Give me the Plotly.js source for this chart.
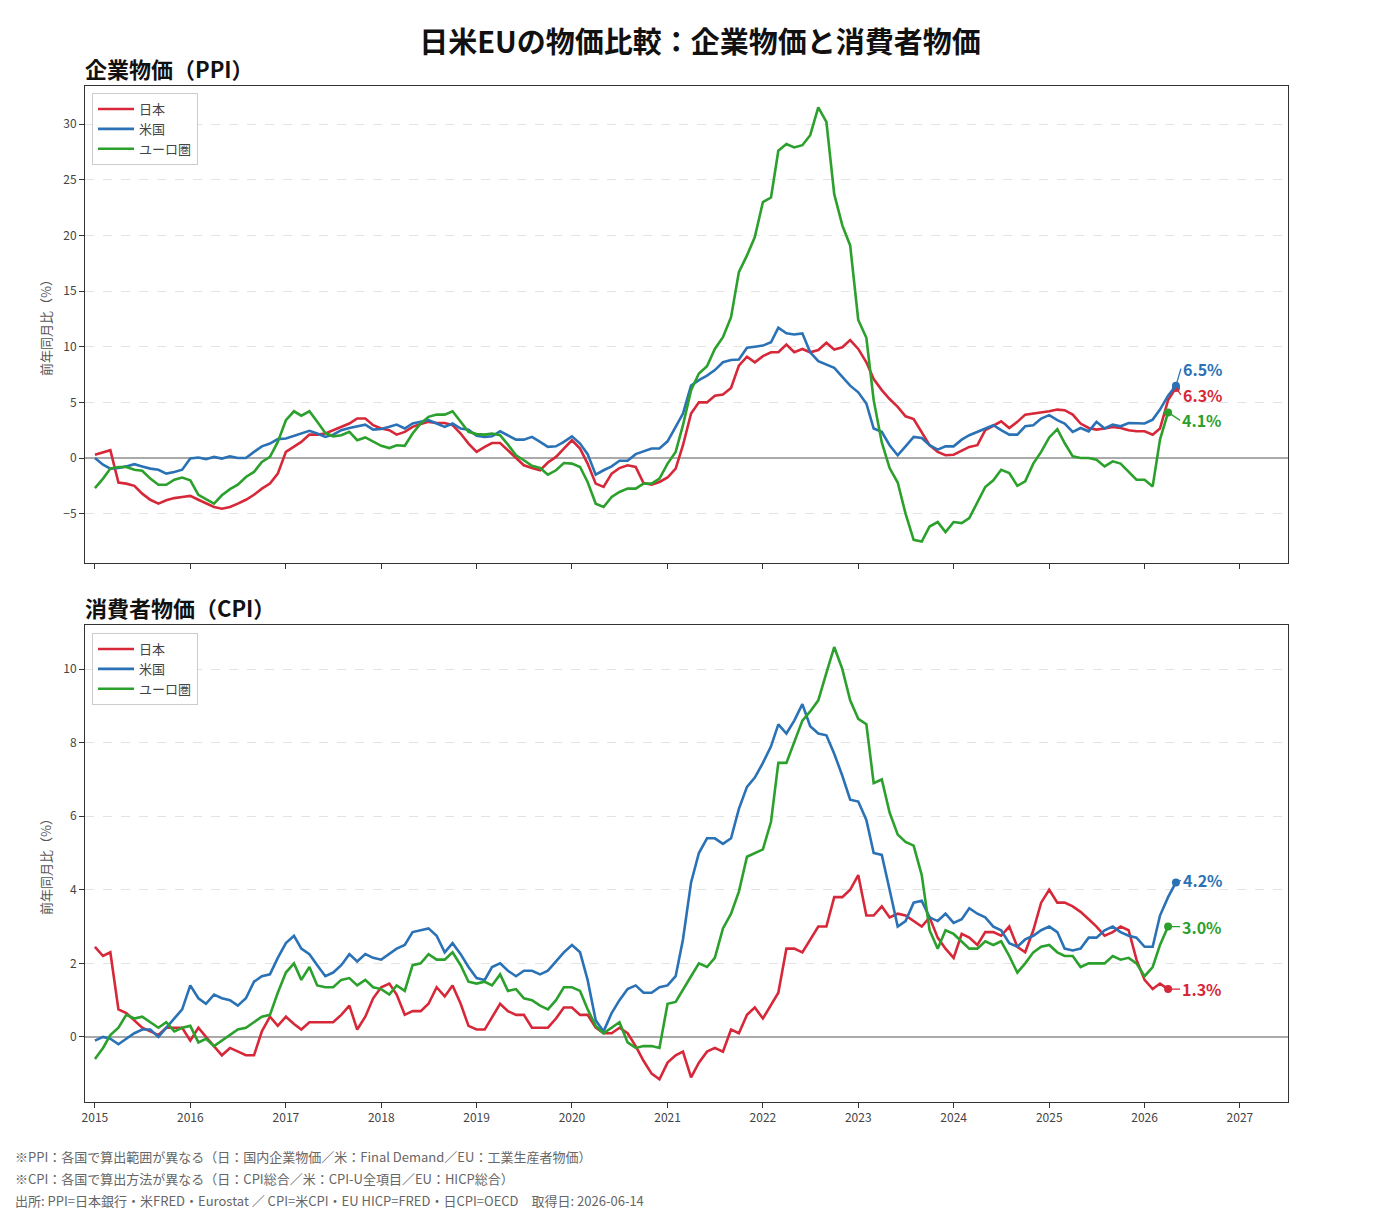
<!DOCTYPE html>
<html>
<head>
<meta charset="utf-8">
<script src="https://cdn.plot.ly/plotly-3.0.1.min.js"></script>
<style>
  html, body { margin: 0; padding: 0; background: #fff; }
  #chart { width: 1400px; height: 1225px; }
</style>
</head>
<body>
<div id="chart"></div>
<script>
// ---- Data (monthly, starting 2015-01) ----
const startYear = 2015;
const seriesNames = ['日本', '米国', 'ユーロ圏'];
const seriesColors = ['#d62839', '#2a72b5', '#2ca02c'];

const ppiJapan = [
  0.3, 0.5, 0.7, -2.2, -2.3, -2.5, -3.2, -3.75, -4.1, -3.8, -3.6, -3.5,
  -3.4, -3.75, -4.1, -4.4, -4.55, -4.4, -4.1, -3.75, -3.3, -2.75, -2.3, -1.4,
  0.55, 1.0, 1.45, 2.1, 2.1, 2.2, 2.5, 2.8, 3.1, 3.55, 3.55, 2.95,
  2.65, 2.5, 2.1, 2.35, 2.8, 3.05, 3.25, 3.15, 3.15, 2.95, 2.2, 1.3,
  0.55, 1.0, 1.35, 1.35, 0.7, -0.05, -0.65, -0.9, -1.1, -0.4, 0.1, 0.85,
  1.6, 0.85, -0.5, -2.3, -2.6, -1.4, -0.9, -0.65, -0.8, -2.25, -2.4, -2.15,
  -1.75, -0.95, 1.15, 4.0, 5.0, 5.0, 5.6, 5.7, 6.3, 8.3, 9.1, 8.6,
  9.15, 9.5, 9.5, 10.2, 9.5, 9.8, 9.5, 9.7, 10.35, 9.75, 9.95, 10.6,
  9.8, 8.6, 7.1, 6.1, 5.3, 4.6, 3.75, 3.5, 2.3, 1.15, 0.55, 0.25,
  0.3, 0.7, 1.0, 1.15, 2.5, 2.9, 3.3, 2.7, 3.25, 3.9, 4.0, 4.05,
  4.2, 4.35, 4.3, 3.9, 3.1, 2.7, 2.55, 2.65, 2.8, 2.7, 2.5, 2.4,
  2.4, 2.1, 2.65, 5.2, 6.3
];
const ppiUS = [
  0.0, -0.6, -0.95, -0.9, -0.75, -0.55, -0.75, -0.95, -1.05, -1.4, -1.25, -1.05,
  -0.05, 0.05, -0.1, 0.1, -0.05, 0.15, 0.0, 0.0, 0.55, 1.05, 1.3, 1.7,
  1.75, 2.0, 2.2, 2.45, 2.2, 1.9, 2.1, 2.5, 2.7, 2.85, 3.0, 2.55,
  2.6, 2.8, 3.0, 2.65, 3.1, 3.25, 3.4, 3.1, 2.8, 3.1, 2.65, 2.55,
  2.0, 1.9, 1.95, 2.4, 2.0, 1.65, 1.65, 1.9, 1.45, 1.0, 1.05, 1.45,
  1.95, 1.3, 0.35, -1.5, -1.1, -0.75, -0.25, -0.25, 0.35, 0.6, 0.85, 0.85,
  1.5, 2.8, 4.0, 6.5, 7.0, 7.4, 7.9, 8.6, 8.8, 8.85, 9.9, 10.0,
  10.1, 10.4, 11.7, 11.2, 11.1, 11.2, 9.5, 8.7, 8.4, 8.1, 7.3, 6.5,
  5.9, 4.9, 2.65, 2.35, 1.15, 0.25, 1.05, 1.9, 1.8, 1.15, 0.75, 1.05,
  1.05, 1.65, 2.05, 2.35, 2.65, 2.95, 2.5, 2.1, 2.1, 2.85, 2.95, 3.55,
  3.85, 3.4, 3.1, 2.35, 2.7, 2.4, 3.25, 2.65, 3.0, 2.85, 3.15, 3.15,
  3.1, 3.45, 4.35, 5.6, 6.5
];
const ppiEuro = [
  -2.7, -1.85, -0.95, -0.8, -0.8, -1.05, -1.15, -1.85, -2.4, -2.4, -1.95, -1.75,
  -2.0, -3.3, -3.7, -4.1, -3.35, -2.8, -2.4, -1.7, -1.25, -0.35, 0.1, 1.45,
  3.4, 4.2, 3.8, 4.2, 3.25, 2.25, 1.95, 2.05, 2.35, 1.6, 1.85, 1.45,
  1.1, 0.9, 1.15, 1.1, 2.2, 3.1, 3.7, 3.9, 3.9, 4.2, 3.25, 2.35,
  2.15, 2.1, 2.2, 2.05, 1.2, 0.25, -0.2, -0.7, -0.9, -1.5, -1.1, -0.45,
  -0.5, -0.8, -2.15, -4.1, -4.4, -3.5, -3.05, -2.75, -2.75, -2.3, -2.3, -1.85,
  -0.5, 0.55, 2.95, 6.1, 7.6, 8.25, 9.8, 10.85, 12.65, 16.7, 18.2, 19.85,
  23.0, 23.4, 27.6, 28.2, 27.9, 28.1, 29.0, 31.5, 30.2, 23.7, 20.9, 19.1,
  12.4, 10.8, 5.2, 1.4, -0.9, -2.2, -5.0, -7.35, -7.5, -6.15, -5.75, -6.65,
  -5.75, -5.85, -5.4, -3.95, -2.6, -2.0, -1.05, -1.35, -2.5, -2.1, -0.5, 0.55,
  1.85, 2.6, 1.35, 0.15, 0.0, 0.0, -0.15, -0.75, -0.3, -0.5, -1.25, -1.95,
  -1.95, -2.55, 1.65, 4.1
];

const cpiJapan = [
  2.45, 2.2, 2.3, 0.75, 0.65, 0.45, 0.25, 0.15, 0.05, 0.25, 0.25, 0.25,
  -0.1, 0.25, 0.0, -0.25, -0.5, -0.3, -0.4, -0.5, -0.5, 0.15, 0.55, 0.3,
  0.55, 0.35, 0.2, 0.4, 0.4, 0.4, 0.4, 0.6, 0.85, 0.2, 0.55, 1.05,
  1.35, 1.45, 1.15, 0.6, 0.7, 0.7, 0.9, 1.35, 1.1, 1.4, 0.9, 0.3,
  0.2, 0.2, 0.55, 0.9, 0.7, 0.6, 0.6, 0.25, 0.25, 0.25, 0.5, 0.8,
  0.8, 0.6, 0.6, 0.25, 0.1, 0.1, 0.25, 0.1, -0.25, -0.65, -1.0, -1.15,
  -0.7, -0.5, -0.4, -1.1, -0.7, -0.4, -0.3, -0.4, 0.2, 0.1, 0.6, 0.8,
  0.5, 0.85, 1.2, 2.4, 2.4, 2.3, 2.65, 3.0, 3.0, 3.8, 3.8, 4.0,
  4.4, 3.3, 3.3, 3.55, 3.25, 3.35, 3.3, 3.15, 3.0, 3.25, 2.7, 2.4,
  2.15, 2.8, 2.7, 2.5, 2.85, 2.85, 2.75, 3.0, 2.45, 2.3, 2.9, 3.65,
  4.0, 3.65, 3.65, 3.55, 3.4, 3.2, 3.0, 2.75, 2.85, 3.0, 2.9, 2.1,
  1.55, 1.3, 1.45, 1.3
];
const cpiUS = [
  -0.1, 0.0, -0.05, -0.2, -0.05, 0.1, 0.2, 0.2, 0.0, 0.25, 0.5, 0.75,
  1.4, 1.05, 0.9, 1.15, 1.05, 1.0, 0.85, 1.05, 1.5, 1.65, 1.7, 2.15,
  2.55, 2.75, 2.4, 2.25, 1.95, 1.65, 1.75, 1.95, 2.25, 2.05, 2.25, 2.15,
  2.1, 2.25, 2.4, 2.5, 2.85, 2.9, 2.95, 2.75, 2.3, 2.55, 2.25, 1.9,
  1.6, 1.55, 1.9, 2.0, 1.8, 1.65, 1.8, 1.8, 1.7, 1.8, 2.05, 2.3,
  2.5, 2.3, 1.55, 0.45, 0.15, 0.65, 1.0, 1.3, 1.4, 1.2, 1.2, 1.35,
  1.4, 1.65, 2.65, 4.2, 5.0, 5.4, 5.4, 5.25, 5.4, 6.2, 6.8, 7.05,
  7.45, 7.9, 8.5, 8.25, 8.6, 9.05, 8.45, 8.25, 8.2, 7.7, 7.1, 6.45,
  6.4, 5.9, 5.0, 4.95, 4.0, 3.0, 3.15, 3.65, 3.7, 3.25, 3.15, 3.35,
  3.1, 3.2, 3.5, 3.35, 3.25, 3.0, 2.9, 2.55, 2.45, 2.65, 2.75, 2.9,
  3.0, 2.85, 2.4, 2.35, 2.4, 2.7, 2.7, 2.9, 3.0, 2.85, 2.75, 2.7,
  2.45, 2.45, 3.3, 3.8, 4.2
];
const cpiEuro = [
  -0.6, -0.3, 0.05, 0.25, 0.6, 0.5, 0.55, 0.4, 0.25, 0.4, 0.15, 0.25,
  0.3, -0.15, -0.05, -0.25, -0.1, 0.05, 0.2, 0.25, 0.4, 0.55, 0.6, 1.2,
  1.75, 2.0, 1.55, 1.9, 1.4, 1.35, 1.35, 1.55, 1.6, 1.4, 1.55, 1.35,
  1.3, 1.15, 1.4, 1.25, 1.95, 2.0, 2.25, 2.1, 2.1, 2.3, 1.95, 1.5,
  1.45, 1.5, 1.4, 1.7, 1.25, 1.3, 1.05, 1.0, 0.85, 0.75, 1.0, 1.35,
  1.35, 1.25, 0.75, 0.3, 0.1, 0.25, 0.4, -0.15, -0.3, -0.25, -0.25, -0.3,
  0.9, 0.95, 1.3, 1.65, 2.0, 1.9, 2.15, 2.95, 3.35, 3.95, 4.9, 5.0,
  5.1, 5.85, 7.45, 7.45, 8.0, 8.6, 8.85, 9.15, 9.9, 10.6, 10.0, 9.15,
  8.65, 8.5, 6.9, 7.0, 6.1, 5.5, 5.3, 5.2, 4.4, 2.9, 2.4, 2.9,
  2.8, 2.6, 2.4, 2.4, 2.6, 2.5, 2.6, 2.2, 1.75, 2.0, 2.3, 2.45,
  2.5, 2.3, 2.2, 2.2, 1.9, 2.0, 2.0, 2.0, 2.2, 2.1, 2.15, 2.0,
  1.65, 1.9, 2.5, 3.0
];

const ppiSeries = [ppiJapan, ppiUS, ppiEuro];
const cpiSeries = [cpiJapan, cpiUS, cpiEuro];

// label offsets (pixels) for end-of-line value labels: [ax, ay]
const ppiLabelOffsets = [[5, 7], [5, -17], [12, 8]];
const cpiLabelOffsets = [[12, 0], [5, -2], [12, 0]];

const footnotes = [
  '※PPI：各国で算出範囲が異なる（日：国内企業物価／米：Final Demand／EU：工業生産者物価）',
  '※CPI：各国で算出方法が異なる（日：CPI総合／米：CPI-U全項目／EU：HICP総合）',
  '出所: PPI=日本銀行・米FRED・Eurostat ／ CPI=米CPI・EU HICP=FRED・日CPI=OECD　取得日: 2026-06-14'
];

function monthDates(n) {
  const out = [];
  for (let i = 0; i < n; i++) {
    const y = startYear + Math.floor(i / 12);
    const m = (i % 12) + 1;
    out.push(y + '-' + String(m).padStart(2, '0') + '-01');
  }
  return out;
}

const FONT = '"Noto Sans CJK JP", "Noto Sans", sans-serif';
const traces = [];
const annotations = [];

function addPanel(seriesList, xa, ya, legendName, offsets) {
  seriesList.forEach((vals, k) => {
    const dates = monthDates(vals.length);
    traces.push({
      type: 'scatter', mode: 'lines', x: dates, y: vals,
      name: seriesNames[k], xaxis: xa, yaxis: ya, legend: legendName,
      line: { color: seriesColors[k], width: 2.6 }
    });
    const lx = dates[dates.length - 1], ly = vals[vals.length - 1];
    traces.push({
      type: 'scatter', mode: 'markers', x: [lx], y: [ly],
      xaxis: xa, yaxis: ya, showlegend: false, hoverinfo: 'skip',
      marker: { color: seriesColors[k], size: 8 }
    });
    annotations.push({
      x: lx, y: ly, xref: xa, yref: ya,
      text: '<b>' + ly.toFixed(1) + '%</b>',
      showarrow: true, arrowhead: 0, arrowwidth: 1.3, arrowcolor: seriesColors[k],
      ax: offsets[k][0], ay: offsets[k][1], standoff: 0,
      xanchor: 'left', yanchor: 'middle',
      font: { family: FONT, size: 16, color: seriesColors[k] }
    });
  });
}

addPanel(ppiSeries, 'x', 'y', 'legend', ppiLabelOffsets);
addPanel(cpiSeries, 'x2', 'y2', 'legend2', cpiLabelOffsets);

// Subplot titles
annotations.push({
  text: '<b>企業物価（PPI）</b>', xref: 'paper', yref: 'paper',
  x: 83 / 1400, y: 1 - 68 / 1225, xanchor: 'left', yanchor: 'middle',
  showarrow: false, font: { family: FONT, size: 22, color: '#111' }
});
annotations.push({
  text: '<b>消費者物価（CPI）</b>', xref: 'paper', yref: 'paper',
  x: 83 / 1400, y: 1 - 607 / 1225, xanchor: 'left', yanchor: 'middle',
  showarrow: false, font: { family: FONT, size: 22, color: '#111' }
});
// Footnotes
const footY = [1156, 1178, 1200];
footnotes.forEach((t, i) => {
  annotations.push({
    text: t, xref: 'paper', yref: 'paper',
    x: 13 / 1400, y: 1 - footY[i] / 1225, xanchor: 'left', yanchor: 'middle',
    showarrow: false, font: { family: FONT, size: 13, color: '#666' }
  });
});

const xRange = ['2014-11-24', '2027-07-04'];
const xCommon = {
  type: 'date', range: xRange, tick0: '2015-01-01', dtick: 'M12', tickformat: '%Y',
  ticks: 'outside', ticklen: 5, tickcolor: '#333', tickwidth: 1,
  showline: true, linecolor: '#333', linewidth: 1, mirror: true,
  showgrid: false, zeroline: false,
  tickfont: { family: FONT, size: 12, color: '#444' },
  domain: [85 / 1400, 1288 / 1400]
};
const yCommon = {
  ticks: 'outside', ticklen: 5, tickcolor: '#333', tickwidth: 1,
  showline: true, linecolor: '#333', linewidth: 1, mirror: true,
  showgrid: true, gridcolor: '#e3e3e3', griddash: 'dash', gridwidth: 1,
  zeroline: true, zerolinecolor: '#aaaaaa', zerolinewidth: 1.6,
  tickfont: { family: FONT, size: 12, color: '#444' },
  title: { text: '前年同月比（%）', font: { family: FONT, size: 13, color: '#555' }, standoff: 8 }
};

const legendCommon = {
  bgcolor: 'rgba(255,255,255,0.9)', bordercolor: '#cccccc', borderwidth: 1,
  font: { family: FONT, size: 13, color: '#444' },
  xanchor: 'left', yanchor: 'top', tracegroupgap: 0, itemwidth: 36
};

const layout = {
  width: 1400, height: 1225,
  margin: { l: 0, r: 0, t: 0, b: 0 },
  paper_bgcolor: '#fff', plot_bgcolor: '#fff',
  font: { family: FONT },
  title: {
    text: '<b>日米EUの物価比較：企業物価と消費者物価</b>',
    x: 0.5, xanchor: 'center', y: 1 - 43 / 1225, yanchor: 'middle',
    font: { family: FONT, size: 29, color: '#111' }
  },
  xaxis: Object.assign({}, xCommon, { anchor: 'y', showticklabels: false }),
  yaxis: Object.assign({}, yCommon, {
    anchor: 'x', domain: [1 - 563 / 1225, 1 - 86 / 1225],
    range: [-9.43, 33.42], dtick: 5, tick0: 0
  }),
  xaxis2: Object.assign({}, xCommon, { anchor: 'y2' }),
  yaxis2: Object.assign({}, yCommon, {
    anchor: 'x2', domain: [1 - 1102 / 1225, 1 - 625 / 1225],
    range: [-1.77, 11.2], dtick: 2, tick0: 0
  }),
  legend: Object.assign({}, legendCommon, { x: 92 / 1400, y: 1 - 93 / 1225 }),
  legend2: Object.assign({}, legendCommon, { x: 92 / 1400, y: 1 - 633 / 1225 }),
  annotations: annotations,
  showlegend: true
};

Plotly.newPlot('chart', traces, layout, { displayModeBar: false, staticPlot: true });
</script>
</body>
</html>
